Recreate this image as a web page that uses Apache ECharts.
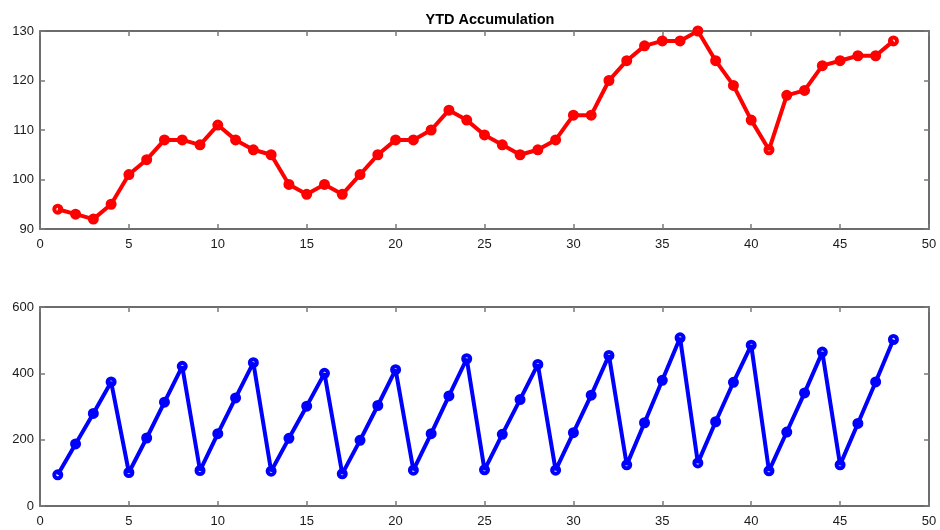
<!DOCTYPE html>
<html>
<head>
<meta charset="utf-8">
<script src="https://cdn.jsdelivr.net/npm/echarts@6/dist/echarts.min.js"></script>
<style>
  html, body { margin: 0; padding: 0; background: #fff; }
  #chart { width: 940px; height: 530px; }
</style>
</head>
<body>
<div id="chart"></div>
<script>
// Period index (1..48)
const periods = Array.from({ length: 48 }, (_, i) => i + 1);

// Value per period
const periodValues = [
  94, 93, 92, 95, 101, 104, 108, 108, 107, 111, 108, 106,
  105, 99, 97, 99, 97, 101, 105, 108, 108, 110, 114, 112,
  109, 107, 105, 106, 108, 113, 113, 120, 124, 127, 128, 128,
  130, 124, 119, 112, 106, 117, 118, 123, 124, 125, 125, 128
];

// Year-to-date running total (resets every 4 periods)
const ytdValues = [
  94, 187, 279, 374, 101, 205, 313, 421, 107, 218, 326, 432,
  105, 204, 301, 400, 97, 198, 303, 411, 108, 218, 332, 444,
  109, 216, 321, 427, 108, 221, 334, 454, 124, 251, 379, 507,
  130, 254, 373, 485, 106, 223, 341, 464, 124, 249, 374, 502
];

const titleText = 'YTD Accumulation';
const xTicks = { min: 0, max: 50, interval: 5 };
const topTicks = { min: 90, max: 130, interval: 10 };
const bottomTicks = { min: 0, max: 600, interval: 200 };

const FONT = 'Liberation Sans, Arial, sans-serif';
const frameColor = '#3c3c3c';
const tickColor = '#7a7a7a';

// ticks point into the plot area
const tickStyle = { show: true, inside: false, length: -5, lineStyle: { color: tickColor, width: 1.5 } };

function xAxisPair(gridIndex) {
  const base = {
    type: 'value', gridIndex,
    min: xTicks.min, max: xTicks.max, interval: xTicks.interval,
    splitLine: { show: false },
    axisLine: { show: true, onZero: false, lineStyle: { color: frameColor, width: 1.5 } },
    axisTick: tickStyle
  };
  return [
    Object.assign({}, base, {
      position: 'bottom',
      axisLabel: { show: true, color: '#1a1a1a', fontSize: 13, fontFamily: FONT, margin: 9 }
    }),
    Object.assign({}, base, { position: 'top', axisLabel: { show: false } })
  ];
}

function yAxisPair(gridIndex, t) {
  const base = {
    type: 'value', gridIndex,
    min: t.min, max: t.max, interval: t.interval,
    splitLine: { show: false },
    axisLine: { show: true, onZero: false, lineStyle: { color: frameColor, width: 1.5 } },
    axisTick: tickStyle
  };
  return [
    Object.assign({}, base, {
      position: 'left',
      axisLabel: { show: true, color: '#1a1a1a', fontSize: 13, fontFamily: FONT, margin: 6 }
    }),
    Object.assign({}, base, { position: 'right', axisLabel: { show: false } })
  ];
}

function lineSeries(values, color, xi, yi) {
  return {
    type: 'line',
    xAxisIndex: xi, yAxisIndex: yi,
    data: periods.map((p, i) => [p, values[i]]),
    symbol: 'circle',
    symbolSize: 7,
    showAllSymbol: true,
    lineStyle: { color, width: 4 },
    itemStyle: { color: 'rgba(0,0,0,0)', borderColor: color, borderWidth: 4 },
    emphasis: { disabled: true },
    animation: false,
    z: 3
  };
}

const chart = echarts.init(document.getElementById('chart'), null, { renderer: 'canvas' });
chart.setOption({
  backgroundColor: '#ffffff',
  animation: false,
  title: {
    text: titleText, left: 485, top: 7, textAlign: 'center',
    textStyle: { fontFamily: FONT, fontSize: 14.5, fontWeight: 'bold', color: '#000' }
  },
  grid: [
    { left: 40, right: 11, top: 31, height: 198 },
    { left: 40, right: 11, top: 307, height: 199 }
  ],
  xAxis: [...xAxisPair(0), ...xAxisPair(1)],
  yAxis: [...yAxisPair(0, topTicks), ...yAxisPair(1, bottomTicks)],
  series: [
    lineSeries(periodValues, '#ff0000', 0, 0),
    lineSeries(ytdValues, '#0000ff', 2, 2)
  ]
});
</script>
</body>
</html>
